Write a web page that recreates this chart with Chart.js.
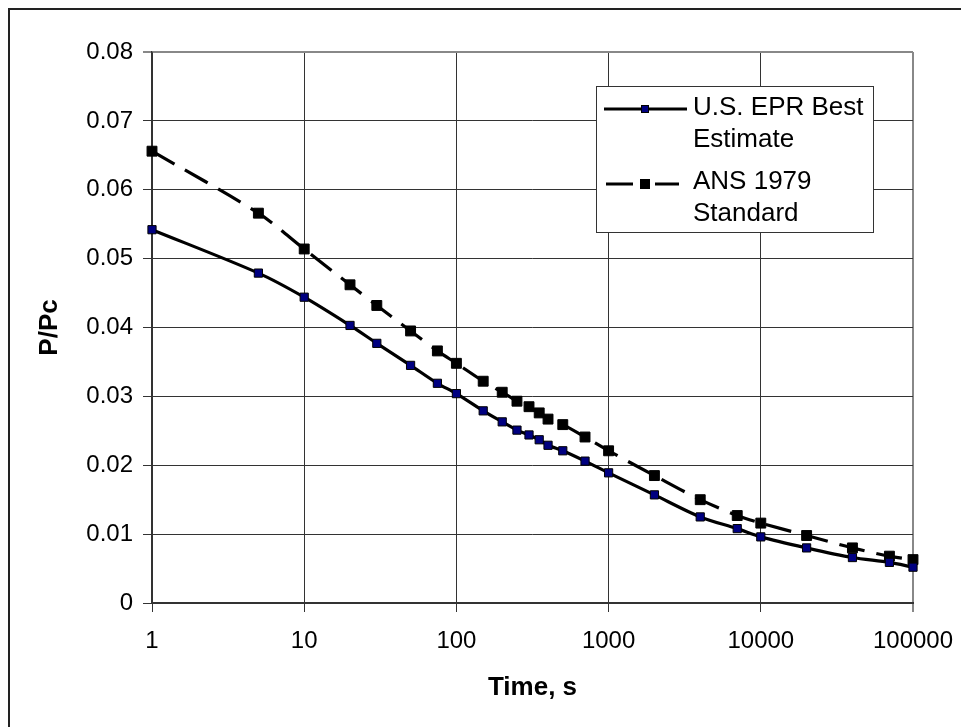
<!DOCTYPE html>
<html>
<head>
<meta charset="utf-8">
<title>P/Pc vs Time</title>
<script src="https://cdn.jsdelivr.net/npm/chart.js@4.4.1/dist/chart.umd.min.js"></script>
<style>
    body { margin: 0; background: #fff; }
    #chart1 { display: block; }
</style>
</head>
<body>
<canvas id="chart1" width="961" height="727"></canvas>
<script>
// temps (s) et puissance relative
const temps = [1, 5, 10, 20, 30, 50, 75, 100, 150, 200, 250, 300, 350, 400, 500, 700,
    1000, 2000, 4000, 7000, 10000, 20000, 40000, 70000, 100000];
const bestEstimate = [0.0542, 0.0479, 0.0444, 0.0403, 0.0377, 0.0345, 0.0319, 0.0304, 0.0279,
    0.0263, 0.0251, 0.0244, 0.0237, 0.0229, 0.0221, 0.0206, 0.0189, 0.0157, 0.0125, 0.0108,
    0.0096, 0.0080, 0.0066, 0.0059, 0.0052];
const ans1979 = [0.0656, 0.0566, 0.0514, 0.0462, 0.0432, 0.0395, 0.0366, 0.0348, 0.0322,
    0.0306, 0.0293, 0.0285, 0.0276, 0.0267, 0.0259, 0.0241, 0.0221, 0.0185, 0.0150, 0.0127,
    0.0116, 0.0098, 0.0080, 0.0068, 0.0063];
const xTicks = [1, 10, 100, 1000, 10000, 100000];
const yTicks = [0, 0.01, 0.02, 0.03, 0.04, 0.05, 0.06, 0.07, 0.08];
const legendLabels = [['U.S. EPR Best', 'Estimate'], ['ANS 1979', 'Standard']];

const FONT = "'Liberation Sans', Arial, sans-serif";
const dash = [26, 12];

document.addEventListener('DOMContentLoaded', function() {
    // cadre exterieur + legende sur deux lignes
    const framePlugin = {
        id: 'frame',
        beforeDraw(chart) {
            const c = chart.ctx;
            c.save();
            c.fillStyle = '#fff';
            c.fillRect(0, 0, chart.width, chart.height);
            c.strokeStyle = '#222';
            c.lineWidth = 2;
            c.strokeRect(9, 9, chart.width + 20, chart.height + 20);
            c.restore();
        },
        afterDraw(chart) {
            const c = chart.ctx;
            c.save();
            c.fillStyle = '#fff';
            c.fillRect(596, 86, 278, 147);
            c.strokeStyle = '#333';
            c.lineWidth = 1;
            c.strokeRect(596.5, 86.5, 277, 146);

            // echantillon 1 : trait plein, carre bleu
            c.strokeStyle = '#000';
            c.lineWidth = 3;
            c.beginPath();
            c.moveTo(604, 109); c.lineTo(687, 109);
            c.stroke();
            c.fillStyle = '#000080';
            c.fillRect(641, 105, 8, 8);
            c.lineWidth = 1;
            c.strokeRect(641.5, 105.5, 7, 7);

            // echantillon 2 : tirets, carre noir
            c.lineWidth = 3;
            c.beginPath();
            c.moveTo(606, 184); c.lineTo(633, 184);
            c.moveTo(655, 184); c.lineTo(679, 184);
            c.stroke();
            c.fillStyle = '#000';
            c.fillRect(640, 179, 10, 10);

            c.fillStyle = '#000';
            c.font = '26px ' + FONT;
            c.textAlign = 'left';
            c.textBaseline = 'alphabetic';
            c.fillText(legendLabels[0][0], 693, 115);
            c.fillText(legendLabels[0][1], 693, 147);
            c.fillText(legendLabels[1][0], 693, 189);
            c.fillText(legendLabels[1][1], 693, 221);
            c.restore();
        }
    };

    var ctx = document.getElementById('chart1').getContext('2d');
    var myChart = new Chart(ctx, {
        type: 'line',
        data: {
            datasets: [{
                label: legendLabels[0].join(' '),
                data: temps.map((t, i) => ({ x: t, y: bestEstimate[i] })),
                borderColor: '#000',
                borderWidth: 3.2,
                tension: 0.3,
                pointStyle: 'rect',
                pointRadius: 5.8,
                pointBackgroundColor: '#000080',
                pointBorderColor: '#000',
                pointBorderWidth: 1,
                clip: false
            }, {
                label: legendLabels[1].join(' '),
                data: temps.map((t, i) => ({ x: t, y: ans1979[i] })),
                borderColor: '#000',
                borderWidth: 3.2,
                borderDash: dash,
                tension: 0.3,
                pointStyle: 'rect',
                pointRadius: 7,
                pointBackgroundColor: '#000',
                pointBorderColor: '#000',
                pointBorderWidth: 1,
                clip: false
            }]
        },
        options: {
            responsive: false,
            animation: false,
            layout: { padding: { left: 0, top: 52, right: 48, bottom: 0 } },
            plugins: {
                legend: { display: false },
                tooltip: { enabled: false }
            },
            scales: {
                x: {
                    type: 'logarithmic',
                    min: 1,
                    max: 100000,
                    afterBuildTicks: axis => { axis.ticks = xTicks.map(v => ({ value: v })); },
                    afterFit: axis => {
                        axis.height = 124;
                        axis.paddingLeft = 0;
                        axis.paddingRight = 0;
                    },
                    ticks: {
                        color: '#000',
                        font: { family: FONT, size: 24 },
                        padding: 15,
                        maxRotation: 0,
                        callback: v => String(v)
                    },
                    grid: {
                        color: c => c.tick && c.tick.value === 100000 ? '#888' : '#333',
                        lineWidth: c => c.tick && c.tick.value === 100000 ? 2 : 1,
                        tickLength: 9
                    },
                    border: { color: '#333', width: 2 },
                    title: {
                        display: true,
                        text: 'Time, s',
                        color: '#000',
                        font: { family: FONT, size: 26, weight: 'bold' },
                        padding: { top: 0, bottom: 24 }
                    }
                },
                y: {
                    min: 0,
                    max: 0.08,
                    afterBuildTicks: axis => { axis.ticks = yTicks.map(v => ({ value: v })); },
                    afterFit: axis => {
                        axis.width = 152;
                        axis.paddingTop = 0;
                        axis.paddingBottom = 0;
                    },
                    ticks: {
                        color: '#000',
                        font: { family: FONT, size: 24 },
                        padding: 10,
                        callback: v => v === 0 ? '0' : v.toFixed(2)
                    },
                    grid: {
                        color: c => c.tick && Math.abs(c.tick.value - 0.08) < 1e-9 ? '#888' : '#333',
                        lineWidth: c => c.tick && Math.abs(c.tick.value - 0.08) < 1e-9 ? 2 : 1,
                        tickLength: 9
                    },
                    border: { color: '#333', width: 1.5 },
                    title: {
                        display: true,
                        text: 'P/Pc',
                        color: '#000',
                        font: { family: FONT, size: 26, weight: 'bold' },
                        padding: { top: 34, bottom: 0 }
                    }
                }
            }
        },
        plugins: [framePlugin]
    });
});
</script>
</body>
</html>
